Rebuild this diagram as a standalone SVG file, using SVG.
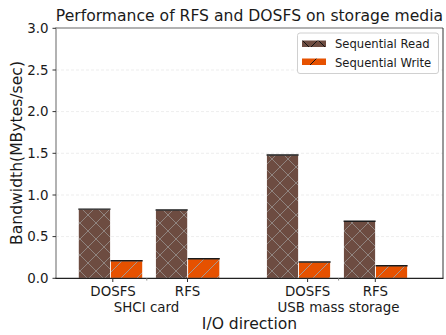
<svg xmlns="http://www.w3.org/2000/svg" width="446" height="335" viewBox="0 0 446 335">
<style>
text{font-family:"DejaVu Sans","Liberation Sans",sans-serif;fill:#1a1a1a}
.tick{font-size:13.4px}
.lab{font-size:15.6px}
.leg{font-size:11.6px}
.grid{stroke:#e8e8e8;stroke-width:0.8;stroke-dasharray:3,2}
.rd{fill:url(#hx)}
.wr{fill:url(#hs)}
.bar{stroke:#fff;stroke-width:0.8}
.cap{stroke:#1a1a1a;stroke-width:1.4}
.tk{stroke:#333;stroke-width:1}
</style>
<defs>
<pattern id="hx" patternUnits="userSpaceOnUse" x="0" y="15" width="16" height="16">
<rect width="16" height="16" fill="#6d4c41"/>
<path d="M0,0L16,16M0,16L16,0" stroke="#948a86" stroke-width="0.9"/>
</pattern>
<pattern id="hs" patternUnits="userSpaceOnUse" x="0" y="15" width="16" height="16">
<rect width="16" height="16" fill="#e65100"/>
<path d="M-4,4L4,-4M0,16L16,0M12,20L20,12" stroke="#a0a0a0" stroke-width="0.9"/>
</pattern>
<pattern id="lx" patternUnits="userSpaceOnUse" x="302" y="40" width="16" height="16">
<rect width="16" height="16" fill="#6d4c41"/>
<path d="M0,0L16,16M0,16L16,0" stroke="#111" stroke-width="1"/>
</pattern>
<pattern id="ls" patternUnits="userSpaceOnUse" x="302" y="57" width="16" height="16">
<rect width="16" height="16" fill="#e65100"/>
<path d="M-4,4L4,-4M0,16L16,0M12,20L20,12" stroke="#111" stroke-width="1"/>
</pattern>
</defs>

<g id="grid">
<line class="grid" x1="56" y1="236.6" x2="443" y2="236.6"/>
<line class="grid" x1="56" y1="195" x2="443" y2="195"/>
<line class="grid" x1="56" y1="153.3" x2="443" y2="153.3"/>
<line class="grid" x1="56" y1="111.6" x2="443" y2="111.6"/>
<line class="grid" x1="56" y1="70" x2="443" y2="70"/>
</g>

<g id="bars">
<g id="shci-dosfs">
<rect class="bar rd" x="78.3" y="209.1" width="32.2" height="69.2"/>
<rect class="bar wr" x="110.5" y="260.8" width="32.2" height="17.5"/>
<line class="cap" x1="78.3" y1="209.1" x2="110.5" y2="209.1"/>
<line class="cap" x1="110.5" y1="260.8" x2="142.7" y2="260.8"/>
</g>
<g id="shci-rfs">
<rect class="bar rd" x="155.6" y="210" width="32.1" height="68.3"/>
<rect class="bar wr" x="187.7" y="258.7" width="32.1" height="19.6"/>
<line class="cap" x1="155.6" y1="210" x2="187.7" y2="210"/>
<line class="cap" x1="187.7" y1="258.7" x2="219.8" y2="258.7"/>
</g>
<g id="usb-dosfs">
<rect class="bar rd" x="266.6" y="155" width="32" height="123.3"/>
<rect class="bar wr" x="298.6" y="262" width="32" height="16.3"/>
<line class="cap" x1="266.6" y1="155" x2="298.6" y2="155"/>
<line class="cap" x1="298.6" y1="262" x2="330.6" y2="262"/>
</g>
<g id="usb-rfs">
<rect class="bar rd" x="343.6" y="221.3" width="32" height="57"/>
<rect class="bar wr" x="375.6" y="265.7" width="32" height="12.6"/>
<line class="cap" x1="343.6" y1="221.3" x2="375.6" y2="221.3"/>
<line class="cap" x1="375.6" y1="265.7" x2="407.6" y2="265.7"/>
</g>
</g>

<g id="axes">
<line x1="56" y1="28" x2="443" y2="28" stroke="#999" stroke-width="1.5"/>
<line x1="56" y1="27.3" x2="56" y2="278.3" stroke="#999" stroke-width="1.5"/>
<line x1="443" y1="28" x2="443" y2="278.3" stroke="#333" stroke-width="1"/>
<line x1="55.3" y1="278.3" x2="443.5" y2="278.3" stroke="#222" stroke-width="1.2"/>
<g class="tk">
<line x1="52.5" y1="278.3" x2="56" y2="278.3"/>
<line x1="52.5" y1="236.6" x2="56" y2="236.6"/>
<line x1="52.5" y1="195" x2="56" y2="195"/>
<line x1="52.5" y1="153.3" x2="56" y2="153.3"/>
<line x1="52.5" y1="111.6" x2="56" y2="111.6"/>
<line x1="52.5" y1="70" x2="56" y2="70"/>
<line x1="52.5" y1="28.3" x2="56" y2="28.3"/>
<line x1="112.8" y1="278.3" x2="112.8" y2="282"/>
<line x1="187.5" y1="278.3" x2="187.5" y2="282"/>
<line x1="307.6" y1="278.3" x2="307.6" y2="282"/>
<line x1="375.3" y1="278.3" x2="375.3" y2="282"/>
</g>
<line x1="146.8" y1="278.3" x2="146.8" y2="280.5" stroke="#888" stroke-width="1"/>
<line x1="338.6" y1="278.3" x2="338.6" y2="280.5" stroke="#888" stroke-width="1"/>
<g class="tick" text-anchor="end">
<text x="48.5" y="283">0.0</text>
<text x="48.5" y="241.3">0.5</text>
<text x="48.5" y="199.7">1.0</text>
<text x="48.5" y="158">1.5</text>
<text x="48.5" y="116.3">2.0</text>
<text x="48.5" y="74.7">2.5</text>
<text x="48.5" y="33">3.0</text>
</g>
<g class="tick" text-anchor="middle">
<text x="113" y="295.5">DOSFS</text>
<text x="187.5" y="295.5">RFS</text>
<text x="307.6" y="295.5">DOSFS</text>
<text x="375.3" y="295.5">RFS</text>
<text x="146.5" y="311.5">SHCI card</text>
<text x="338.5" y="311.5">USB mass storage</text>
</g>
</g>

<text class="lab" x="249.5" y="21" text-anchor="middle">Performance of RFS and DOSFS on storage media</text>
<text class="lab" x="249.5" y="329" text-anchor="middle">I/O direction</text>
<text class="lab" transform="translate(22 153) rotate(-90)" text-anchor="middle">Bandwidth(MBytes/sec)</text>

<g id="legend">
<rect x="297.5" y="33" width="141" height="40.5" rx="2.5" fill="#fff" fill-opacity="0.85" stroke="#d0d0d0" stroke-width="1"/>
<rect x="302" y="40.5" width="24" height="6.5" fill="url(#lx)"/>
<rect x="302" y="58.5" width="24" height="6.5" fill="url(#ls)"/>
<text class="leg" x="335" y="48.3">Sequential Read</text>
<text class="leg" x="335" y="66.7">Sequential Write</text>
</g>
</svg>
